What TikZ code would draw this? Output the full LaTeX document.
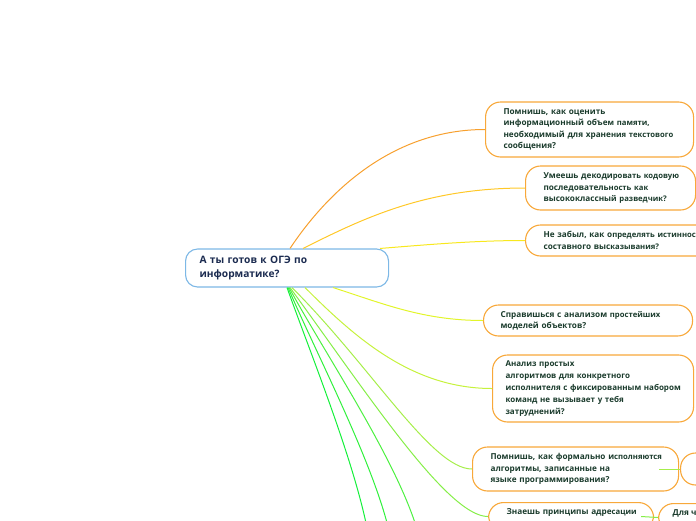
\documentclass[tikz,border=0pt]{standalone}
\usepackage{fontspec}
\setmainfont{Open Sans}
\definecolor{ink}{HTML}{1A3B2C}
\definecolor{rootink}{HTML}{1B2B50}
\definecolor{boxline}{HTML}{F8A83A}
\definecolor{rootline}{HTML}{7DB8E6}
\definecolor{br1}{HTML}{F7A02E}
\definecolor{br2}{HTML}{FFC828}
\definecolor{br3}{HTML}{F8E81E}
\definecolor{br4}{HTML}{E2F52A}
\definecolor{br5}{HTML}{C6F23C}
\definecolor{br6}{HTML}{A6EE4A}
\definecolor{br7}{HTML}{86EE48}
\definecolor{gr1}{HTML}{14F03A}
\definecolor{gr2}{HTML}{30F03C}
\definecolor{gr3}{HTML}{4CF040}
\newcommand\tailtxt[1]{{\fontsize{7.7}{11.3}\selectfont #1}}
\begin{document}
\begin{tikzpicture}[x=1pt,y=-1pt,
  question/.style={draw=boxline, line width=1.1pt, fill=white, rounded corners=15pt,
    anchor=west, align=left, text=ink, font=\fontsize{8.2}{11.3}\selectfont\bfseries,
    inner xsep=18pt, inner ysep=0pt},
  branch/.style={line width=1pt}]

\useasboundingbox (0,0) rectangle (696,520);
\clip (0,0) rectangle (696,520);

\node[question, draw=rootline, text=rootink, rounded corners=12pt, inner xsep=14pt,
  font=\fontsize{10.2}{14}\selectfont\bfseries,
  minimum width=203pt, minimum height=38pt, text width=175pt] (root) at (185,268)
  {А ты готов к ОГЭ по\\ информатике?};

\node[question, minimum width=208pt, minimum height=55pt, text width=172pt] (pamyat) at (485,129.5)
  {Помнишь, как оценить\\ информационный объе\tailtxt{м памяти,}\\
   \mbox{необходимый для хране\tailtxt{ния текстового}}\\ сообщения?};
\node[question, minimum width=170pt, minimum height=44pt, text width=134pt] (dekod) at (525,188)
  {\mbox{Умеешь декоди\tailtxt{ровать кодовую}}\\ последователь\tailtxt{ность как}\\
   высококлассны\tailtxt{й разведчик?}};
\node[question, minimum width=220pt, minimum height=31pt, text width=184pt] (istina) at (525,240.5)
  {\mbox{Не забыл, как о\tailtxt{пределять истиннос}}\\ составного выс\tailtxt{казывания?}};
\node[question, inner xsep=17pt, minimum width=209pt, minimum height=31pt, text width=175pt] (modeli) at (483,320.5)
  {Справишься с анализом \tailtxt{простейших}\\ моделей объектов?};
\node[question, inner xsep=13pt, minimum width=201pt, minimum height=67pt, text width=175pt,
  font=\fontsize{8}{11.8}\selectfont\bfseries] (ispoln) at (492,388.5)
  {Анализ простых\\ алгоритмов для конкретного\\ \mbox{исполнителя с фиксированным набором}\\
   команд не вызывает у тебя\\ затруднений?};
\node[question, minimum width=206pt, minimum height=44pt, text width=170pt] (formal) at (472,469)
  {\mbox{Помнишь, как формально и\tailtxt{сполняются}}\\ алгоритмы, записанные на\\
   языке программирования?};
\node[question, minimum width=60pt, minimum height=32pt] (formaldal) at (680,469) {};
\node[question, anchor=north west, inner ysep=6pt, text depth=10pt,
  minimum width=165pt, text width=129pt] (adres) at (488,502)
  {\mbox{Знаешь принципы адре\tailtxt{сации}}};
\node[question, anchor=north west, inner ysep=6pt, text depth=10pt, inner xsep=14pt,
  minimum width=50pt] (dlya) at (658,503)
  {Для ч};

\coordinate (niz1) at (370,545);
\coordinate (niz2) at (392,545);
\coordinate (niz3) at (421,545);

\draw[branch, br1] ([xshift=105pt]root.north west) .. controls +(40,-60) and +(-90,0) .. (pamyat.west);
\draw[branch, br2] ([xshift=118pt]root.north west) .. controls +(60,-30) and +(-100,0) .. (dekod.west);
\draw[branch, br3] ([xshift=195pt]root.north west) .. controls +(50,-4) and +(-50,0) .. (istina.west);
\draw[branch, br4] ([xshift=148pt]root.south west) .. controls +(50,16) and +(-60,0) .. (modeli.west);
\draw[branch, br5] ([xshift=120pt]root.south west) .. controls +(50,50) and +(-80,0) .. (ispoln.west);
\draw[branch, br6] ([xshift=107pt]root.south west) .. controls +(80,80) and +(-40,0) .. (formal.west);
\draw[branch, br7] ([xshift=105pt]root.south west) .. controls +(80,110) and +(-40,0) .. (adres.west);
\draw[branch, gr1] ([xshift=102pt]root.south west) .. controls +(25,70) and +(-10,-70) .. (niz1);
\draw[branch, gr2] ([xshift=103pt]root.south west) .. controls +(30,70) and +(-12,-70) .. (niz2);
\draw[branch, gr3] ([xshift=104pt]root.south west) .. controls +(38,70) and +(-14,-70) .. (niz3);

\draw[branch, br6] ([xshift=-20pt]formal.east) -- (formaldal.west);
\draw[branch, br7] ([xshift=-13pt]adres.east) -- (dlya.west);
\end{tikzpicture}
\end{document}
